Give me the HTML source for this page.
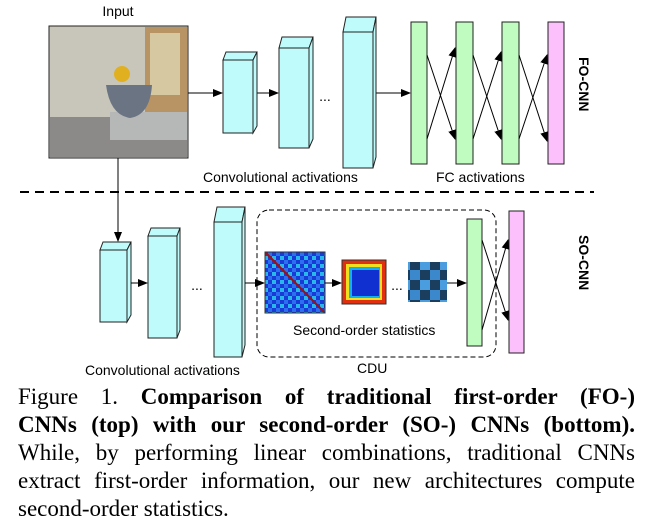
<!DOCTYPE html>
<html><head><meta charset="utf-8"><style>
html,body{margin:0;padding:0;background:#fff;width:650px;height:529px;overflow:hidden;position:relative}
svg{display:block;position:absolute;left:0;top:0}
.s{font-family:"Liberation Sans",sans-serif;font-size:14px;fill:#000}
.b{font-weight:bold}
.cap{position:absolute;left:18px;width:617px;font-family:"Liberation Serif",serif;font-size:23px;line-height:28px;white-space:nowrap;text-align:justify;text-align-last:justify;color:#000}
.cap.l{text-align-last:left}
</style></head><body>
<svg width="650" height="529" viewBox="0 0 650 529" xmlns="http://www.w3.org/2000/svg">
<defs>
<marker id="a" markerWidth="10" markerHeight="8" refX="9" refY="4" orient="auto" markerUnits="userSpaceOnUse"><path d="M0,0 L10,4 L0,8 z" fill="#000"/></marker>
<pattern id="p1" width="8" height="8" patternUnits="userSpaceOnUse"><rect width="8" height="8" fill="#1a3ad8"/><rect width="4" height="4" fill="#29b8ea"/><rect x="4" y="4" width="4" height="4" fill="#2a70f0"/></pattern>
<pattern id="p3" width="20" height="20" patternUnits="userSpaceOnUse"><rect width="20" height="20" fill="#1b3d5e"/><rect width="10" height="10" fill="#4a9ee0"/><rect x="10" y="10" width="10" height="10" fill="#3c88cc"/></pattern>
</defs>
<text class="s" x="118" y="16" text-anchor="middle" font-size="14.5">Input</text>
<rect x="49" y="26" width="139" height="132" fill="#c9c6b4" stroke="#222"/>
<rect x="50" y="27" width="95" height="90" fill="#c8c6ba"/>
<rect x="145" y="27" width="42" height="85" fill="#b89464"/>
<rect x="150" y="33" width="30" height="62" fill="#d6c8a0"/>
<rect x="50" y="117" width="137" height="40" fill="#8b8a88"/>
<rect x="110" y="112" width="77" height="28" fill="#b6b8b8"/>
<path d="M106,85 L152,85 Q150,115 130,118 Q110,115 106,85z" fill="#6b7482"/>
<circle cx="122" cy="74" r="8" fill="#e0b020"/>
<line x1="188" y1="93" x2="222" y2="93" stroke="#000" marker-end="url(#a)"/>
<line x1="254" y1="93" x2="278" y2="93" stroke="#000" marker-end="url(#a)"/>
<line x1="376" y1="93" x2="410" y2="93" stroke="#000" marker-end="url(#a)"/>
<g fill="#c0fbfb" stroke="#222" stroke-width="1">
<path d="M223,60 L226,52 L257,52 L253,60z"/><path d="M253,60 L257,52 L257,126 L253,133z"/><rect x="223" y="60" width="30" height="73"/>
<path d="M279,48 L282,37 L313,37 L309,48z"/><path d="M309,48 L313,37 L313,139 L309,148z"/><rect x="279" y="48" width="30" height="100"/>
<path d="M343,32 L346,17 L376,17 L373,32z"/><path d="M373,32 L376,17 L376,157 L373,168z"/><rect x="343" y="32" width="30" height="136"/>
</g>
<text class="s" x="325" y="101" text-anchor="middle">...</text>
<g fill="#c0fbc0" stroke="#222"><rect x="411" y="22" width="16" height="142"/><rect x="456" y="22" width="17" height="142"/><rect x="502" y="22" width="17" height="142"/></g>
<rect x="548" y="22" width="16" height="142" fill="#fcc0fc" stroke="#222"/>
<g stroke="#000" stroke-width="1">
<line x1="427" y1="55" x2="455" y2="139" marker-end="url(#a)"/><line x1="427" y1="139" x2="455" y2="48" marker-end="url(#a)"/>
<line x1="473" y1="55" x2="501" y2="139" marker-end="url(#a)"/><line x1="473" y1="139" x2="501" y2="52" marker-end="url(#a)"/>
<line x1="519" y1="55" x2="547" y2="141" marker-end="url(#a)"/><line x1="519" y1="139" x2="547" y2="55" marker-end="url(#a)"/>
</g>
<text class="s" x="203" y="182">Convolutional activations</text>
<text class="s" x="436" y="182">FC activations</text>
<text class="s b" font-size="16.5" transform="translate(579,57) rotate(90)">FO-CNN</text>
<line x1="20" y1="192" x2="594" y2="192" stroke="#000" stroke-width="2" stroke-dasharray="9,6"/>
<line x1="118" y1="158" x2="118" y2="241" stroke="#000" marker-end="url(#a)"/>
<g fill="#c0fbfb" stroke="#222">
<path d="M100,250 L103,242 L131,242 L127,250z"/><path d="M127,250 L131,242 L131,315 L127,322z"/><rect x="100" y="250" width="27" height="72"/>
<path d="M148,236 L151,228 L180,228 L177,236z"/><path d="M177,236 L180,228 L180,330 L177,338z"/><rect x="148" y="236" width="29" height="102"/>
<path d="M214,222 L217,207 L245,207 L242,222z"/><path d="M242,222 L245,207 L245,345 L242,357z"/><rect x="214" y="222" width="28" height="135"/>
</g>
<line x1="131" y1="283" x2="147" y2="283" stroke="#000" marker-end="url(#a)"/>
<line x1="245" y1="283" x2="264" y2="283" stroke="#000" marker-end="url(#a)"/>
<text class="s" x="197" y="290" text-anchor="middle">...</text>
<rect x="257" y="210" width="239" height="147" rx="12" fill="none" stroke="#000" stroke-dasharray="5,3"/>
<rect x="265" y="252" width="60" height="61" fill="url(#p1)" stroke="#333"/>
<line x1="266" y1="253" x2="324" y2="312" stroke="#a01010" stroke-width="2"/>
<line x1="325" y1="283" x2="341" y2="283" stroke="#000" marker-end="url(#a)"/>
<rect x="342" y="260" width="44" height="44" fill="#e03010" stroke="#333"/>
<rect x="346" y="264" width="36" height="36" fill="#f0e020"/>
<rect x="349" y="267" width="31" height="31" fill="#10b0f0"/>
<rect x="352" y="270" width="27" height="26" fill="#1030d0"/>
<text class="s" x="397" y="290" text-anchor="middle">...</text>
<rect x="408" y="262" width="39" height="40" fill="url(#p3)"/>
<line x1="447" y1="283" x2="466" y2="283" stroke="#000" marker-end="url(#a)"/>
<rect x="467" y="219" width="15" height="127" fill="#c0fbc0" stroke="#222"/>
<rect x="509" y="211" width="15" height="142" fill="#fcc0fc" stroke="#222"/>
<line x1="482" y1="240" x2="508" y2="320" stroke="#000" marker-end="url(#a)"/>
<line x1="482" y1="330" x2="508" y2="240" stroke="#000" marker-end="url(#a)"/>
<text class="s" x="293" y="335">Second-order statistics</text>
<text class="s" x="357" y="373">CDU</text>
<text class="s" x="85" y="375">Convolutional activations</text>
<text class="s b" font-size="16.5" transform="translate(579,235) rotate(90)">SO-CNN</text>
</svg>
<div class="cap" style="top:383px">Figure 1. <b>Comparison of traditional first-order (FO-)</b></div>
<div class="cap" style="top:411px"><b>CNNs (top) with our second-order (SO-) CNNs (bottom).</b></div>
<div class="cap" style="top:439px">While, by performing linear combinations, traditional CNNs</div>
<div class="cap" style="top:467px">extract first-order information, our new architectures compute</div>
<div class="cap l" style="top:495px">second-order statistics.</div>
</body></html>
